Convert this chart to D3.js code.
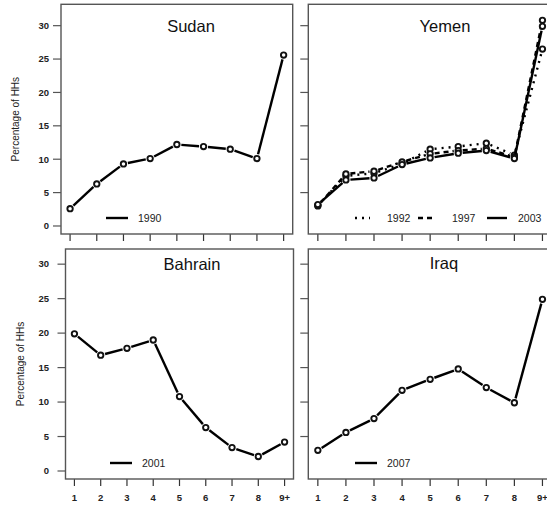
<!DOCTYPE html>
<html><head><meta charset="utf-8">
<script src="https://cdn.jsdelivr.net/npm/d3@7"></script>
<style>
body{margin:0;background:#fff;}
text{font-family:"Liberation Sans",Arial,sans-serif;}
</style></head>
<body>
<svg id="c" width="547" height="508"></svg>
<script>
const xCats = ["1","2","3","4","5","6","7","8","9+"];
const yTicks = [0,5,10,15,20,25,30];
const sudan1990   = [2.6, 6.3, 9.3, 10.1, 12.2, 11.9, 11.5, 10.1, 25.6];
const yemen1992   = [3.1, 7.5, 7.9, 9.3, 11.5, 11.9, 12.4, 10.6, 26.5];
const yemen1997   = [3.0, 7.8, 8.2, 9.6, 10.8, 11.3, 11.6, 10.3, 30.8];
const yemen2003   = [3.2, 6.9, 7.2, 9.2, 10.2, 10.9, 11.3, 10.1, 29.9];
const bahrain2001 = [19.9, 16.8, 17.8, 19.0, 10.8, 6.3, 3.4, 2.1, 4.2];
const iraq2007    = [3.0, 5.6, 7.6, 11.7, 13.3, 14.8, 12.1, 9.9, 24.9];
const yLabel = "Percentage of HHs";

const dashes = {solid:null, dotted:"2,5", dashed:"5,4"};

const panels = [
  {title:"Sudan", box:[61,292.7,4.3,234], yd:[-1.2,33.2], tx:191, ty:32, yLab:true, xLab:false, zeroTick:true, labX:15,
   series:[{name:"1990", v:sudan1990, lty:"solid"}],
   legend:[{x1:106,x2:128,tx:138,y:218}]},
  {title:"Yemen", box:[308.3,552,4.3,234], yd:[-1.2,33.2], tx:445, ty:32, yLab:false, xLab:false, zeroTick:false,
   series:[{name:"1992", v:yemen1992, lty:"dotted"},{name:"1997", v:yemen1997, lty:"dashed"},{name:"2003", v:yemen2003, lty:"solid"}],
   legend:[{x1:355,x2:370,tx:387,y:218},{x1:418,x2:433,tx:452,y:218},{x1:487,x2:507,tx:518,y:218}]},
  {title:"Bahrain", box:[65.5,293.5,249,479], yd:[-1.16,32.2], tx:192, ty:270, yLab:true, xLab:true, zeroTick:true, labX:20,
   series:[{name:"2001", v:bahrain2001, lty:"solid"}],
   legend:[{x1:110,x2:132,tx:142,y:463}]},
  {title:"Iraq", box:[308.3,552,249,479], yd:[-1.16,32.2], tx:444, ty:269, yLab:false, xLab:true, zeroTick:false,
   series:[{name:"2007", v:iraq2007, lty:"solid"}],
   legend:[{x1:355,x2:377,tx:387,y:463}]}
];

const svg = d3.select("#c");
const axCol = "#555";

panels.forEach(p => {
  const [x0,x1,y0,y1] = p.box;
  const x = d3.scaleLinear().domain([0.66,9.34]).range([x0,x1]);
  const y = d3.scaleLinear().domain(p.yd).range([y1,y0]);
  const g = svg.append("g");

  const yt = p.zeroTick ? yTicks : yTicks.filter(t=>t!==0);
  g.selectAll(".yt").data(yt).enter().append("line")
    .attr("x1",x0-8).attr("x2",x0).attr("y1",d=>y(d)).attr("y2",d=>y(d))
    .attr("stroke",axCol).attr("stroke-width",1.2);
  if (p.yLab) {
    g.selectAll(".yl").data(yTicks).enter().append("text")
      .attr("x",49).attr("y",d=>y(d)).attr("dy","0.35em")
      .attr("text-anchor","end").attr("font-size",9.5).attr("font-weight","bold")
      .attr("fill","#222").text(d=>d);
    g.append("text")
      .attr("transform",`translate(${p.labX},${(y0+y1)/2}) rotate(-90)`)
      .attr("text-anchor","middle").attr("dy","0.35em")
      .attr("font-size",10).attr("fill","#222").text(yLabel);
  }
  g.selectAll(".xt").data(xCats).enter().append("line")
    .attr("x1",(d,i)=>x(i+1)).attr("x2",(d,i)=>x(i+1))
    .attr("y1",y1).attr("y2",y1+7)
    .attr("stroke","#333").attr("stroke-width",1.2);
  if (p.xLab) {
    g.selectAll(".xl").data(xCats).enter().append("text")
      .attr("x",(d,i)=>x(i+1)).attr("y",498).attr("dy","0.35em")
      .attr("text-anchor","middle").attr("font-size",9.5).attr("font-weight","bold")
      .attr("fill","#222").text(d=>d);
  }
  g.append("rect").attr("x",x0).attr("y",y0).attr("width",x1-x0).attr("height",y1-y0)
    .attr("fill","none").attr("stroke",axCol).attr("stroke-width",1.4);
  g.append("text").attr("x",p.tx).attr("y",p.ty).attr("text-anchor","middle")
    .attr("font-size",16.5).attr("fill","#111").text(p.title);

  const gap = 4.5;
  p.series.forEach(s => {
    const pts = s.v.map((v,i)=>[x(i+1), y(v)]);
    for (let i=0;i<pts.length-1;i++){
      const [ax,ay]=pts[i], [bx,by]=pts[i+1];
      const dx=bx-ax, dy=by-ay, L=Math.hypot(dx,dy);
      if (L<=2*gap) continue;
      const ux=dx/L, uy=dy/L;
      g.append("line")
        .attr("x1",ax+ux*gap).attr("y1",ay+uy*gap)
        .attr("x2",bx-ux*gap).attr("y2",by-uy*gap)
        .attr("stroke","#000").attr("stroke-width",2.4)
        .attr("stroke-dasharray",dashes[s.lty]);
    }
    g.selectAll(null).data(pts).enter().append("circle")
      .attr("cx",d=>d[0]).attr("cy",d=>d[1]).attr("r",2.7)
      .attr("fill","#fff").attr("stroke","#111").attr("stroke-width",1.9);
  });

  p.series.forEach((s,i) => {
    const L = p.legend[i];
    g.append("line").attr("x1",L.x1).attr("x2",L.x2).attr("y1",L.y).attr("y2",L.y)
      .attr("stroke","#000").attr("stroke-width",2.4)
      .attr("stroke-dasharray",dashes[s.lty]);
    g.append("text").attr("x",L.tx).attr("y",L.y).attr("dy","0.35em")
      .attr("font-size",10.5).attr("fill","#222").text(s.name);
  });
});
</script>
</body></html>
